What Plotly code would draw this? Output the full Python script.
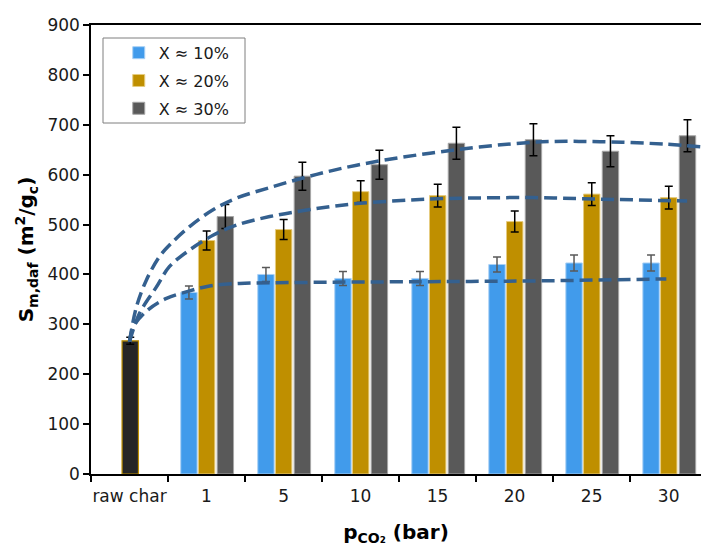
import plotly.graph_objects as go

# ---------------- data ----------------
categories = ["raw char", "1", "5", "10", "15", "20", "25", "30"]
series_names = ["X ≈ 10%", "X ≈ 20%", "X ≈ 30%"]

raw_char_value = [267]
raw_char_err = [7]

s10 = [364, 400, 392, 392, 420, 423, 423]
e10 = [13, 14, 14, 14, 15, 16, 16]
s20 = [468, 490, 566, 558, 506, 561, 554]
e20 = [19, 20, 22, 23, 21, 23, 23]
s30 = [516, 597, 620, 663, 670, 647, 678]
e30 = [24, 28, 29, 32, 32, 31, 32]

# fitted trend curves (x in category-index units)
fit10_x = [0.0, 0.05, 0.24, 0.48, 0.78, 1.04, 1.43, 2.25, 3.81, 5.24, 6.97]
fit10_y = [265, 295, 329, 352, 367, 377, 382, 384, 385.5, 387, 391]
fit20_x = [0.0, 0.13, 0.35, 0.52, 0.78, 1.09, 1.39, 1.82, 2.34, 2.95, 3.90, 4.38, 5.24, 6.11, 7.24]
fit20_y = [265, 322, 375, 416, 449, 479, 499, 516, 530, 542, 551, 553, 554, 551, 547]
fit30_x = [0.0, 0.09, 0.22, 0.39, 0.52, 0.78, 1.09, 1.39, 1.82, 2.34, 2.95, 3.90, 5.24, 6.11, 6.97, 7.41]
fit30_y = [265, 335, 389, 436, 459, 496, 530, 553, 574, 597, 619, 643, 665, 666, 661, 656]

# ---------------- styles ----------------
colors = ["#419BEB", "#BF8F00", "#595959"]
edge_colors = ["#A9D0F5", "#E6CC80", "#A6A6A6"]
err_colors = ["#595959", "#000000", "#000000"]
offsets = [-0.335, -0.105, 0.138]
bar_w = 0.213
fit_color = "#34608F"
FONT = "DejaVu Sans"

positions = list(range(1, len(categories)))

fig = go.Figure()

# raw char bar
fig.add_trace(go.Bar(
    x=[0], y=raw_char_value, width=[bar_w], offset=-0.097,
    marker=dict(color="#262626", line=dict(color="#BF9000", width=1.2)),
    error_y=dict(type="data", array=raw_char_err, color="#000000", thickness=1.5, width=4),
    showlegend=False, hoverinfo="skip",
))

for name, vals, errs, c, ec, erc, off in zip(series_names, [s10, s20, s30], [e10, e20, e30],
                                              colors, edge_colors, err_colors, offsets):
    fig.add_trace(go.Bar(
        x=positions, y=vals, name=name, width=bar_w, offset=off,
        marker=dict(color=c, line=dict(color=ec, width=1)),
        error_y=dict(type="data", array=errs, color=erc, thickness=1.5, width=4),
        legendgroup=name,
    ))

for fx, fy in [(fit10_x, fit10_y), (fit20_x, fit20_y), (fit30_x, fit30_y)]:
    fig.add_trace(go.Scatter(
        x=fx, y=fy, mode="lines",
        line=dict(color=fit_color, width=3.5, dash="13px,6px", shape="spline", smoothing=1.0),
        showlegend=False, hoverinfo="skip",
    ))

fig.update_layout(
    width=701, height=554,
    margin=dict(l=91, r=0, t=25, b=80),
    paper_bgcolor="white", plot_bgcolor="white",
    barmode="overlay",
    font=dict(family=FONT, size=17, color="#1a1a1a"),
    showlegend=True,
    legend=dict(
        x=0.0455, y=0.976, xanchor="left", yanchor="top",
        bgcolor="rgba(0,0,0,0)", borderwidth=0,
        font=dict(family=FONT, size=16, color="#1a1a1a"),
        traceorder="grouped", tracegroupgap=4,
    ),
    shapes=[dict(
        type="rect", xref="paper", yref="paper",
        x0=(103 - 91) / 610, x1=(245 - 91) / 610,
        y0=(474 - 123) / 449, y1=(474 - 38) / 449,
        line=dict(color="#7F7F7F", width=1), fillcolor="rgba(0,0,0,0)", layer="above",
    )],
    xaxis=dict(
        range=[-0.5, 7.42], tickmode="array",
        tickvals=list(range(len(categories))), ticktext=categories,
        ticks="", showgrid=False, zeroline=False,
        showline=True, linecolor="black", linewidth=1.5, mirror=True,
        ticklabelstandoff=6,
        minor=dict(tick0=0.5, dtick=1, ticks="outside", ticklen=6, tickwidth=1.5, tickcolor="black"),
        tickfont=dict(family=FONT, size=17, color="#1a1a1a"),
        title=dict(text="p<sub>CO₂</sub> (bar)", font=dict(family=FONT, size=20, color="#000000", weight="bold"),
                   standoff=20),
    ),
    yaxis=dict(
        range=[0, 900], dtick=100, tick0=0,
        ticks="outside", ticklen=6, tickwidth=1.5, tickcolor="black",
        showgrid=False, zeroline=False,
        showline=True, linecolor="black", linewidth=1.5,
        tickfont=dict(family=FONT, size=17, color="#1a1a1a"),
        title=dict(text="S<sub>m,daf</sub> (m<sup>2</sup>/g<sub>c</sub>)",
                   font=dict(family=FONT, size=20, color="#000000", weight="bold"), standoff=8),
    ),
)

fig.write_html("out.html")
